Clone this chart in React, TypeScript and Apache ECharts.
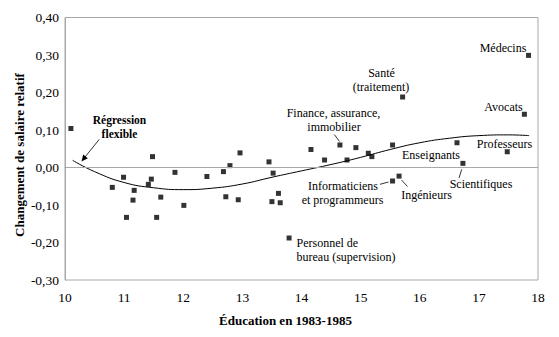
import React, { useEffect, useRef } from "react";
import * as echarts from "echarts";

// Occupations: education 1983-1985 (years) vs change in relative wage
const educ = [
  10.10, 10.80, 10.99, 11.04, 11.15, 11.17, 11.41, 11.46, 11.48, 11.55,
  11.62, 11.86, 12.01, 12.40, 12.68, 12.72, 12.79, 12.93, 12.96, 13.45,
  13.50, 13.52, 13.61, 13.64, 13.79, 14.16, 14.39, 14.65, 14.77, 14.92,
  15.13, 15.19, 15.54, 15.54, 15.65, 15.71, 16.63, 16.73, 17.48, 17.77,
  17.84,
];
const change = [
  0.104, -0.053, -0.026, -0.133, -0.087, -0.061, -0.045, -0.031, 0.029, -0.133,
  -0.079, -0.013, -0.101, -0.024, -0.011, -0.078, 0.005, -0.086, 0.039, 0.015,
  -0.091, -0.015, -0.069, -0.094, -0.188, 0.048, 0.020, 0.060, 0.020, 0.053,
  0.038, 0.029, 0.060, -0.036, -0.023, 0.188, 0.066, 0.011, 0.042, 0.142,
  0.299,
];

// Flexible regression curve
const curveX = [10.13, 10.5, 11.0, 11.5, 12.0, 12.5, 13.0, 13.5, 14.0, 14.5, 15.0, 15.5, 16.0, 16.5, 17.0, 17.5, 17.85];
const curveY = [0.019, -0.011, -0.040, -0.054, -0.059, -0.055, -0.044, -0.026, -0.009, 0.008, 0.027, 0.048, 0.066, 0.078, 0.085, 0.087, 0.085];

const FONT = "'Liberation Serif', 'Times New Roman', serif";

export default function App() {
  const ref = useRef<HTMLDivElement>(null);
  useEffect(() => {
    if (!ref.current) return;
    const chart = echarts.init(ref.current, undefined, { renderer: "svg" });
    const txt = (text: string, x: number, y: number, opts: any = {}) => ({
      type: "text",
      x,
      y,
      style: {
        text,
        fill: "#000",
        fontFamily: FONT,
        fontSize: opts.size || 12,
        fontWeight: opts.bold ? "bold" : "normal",
        textAlign: opts.align || "center",
        textVerticalAlign: "middle",
      },
      silent: true,
    });
    const ln = (x1: number, y1: number, x2: number, y2: number) => ({
      type: "line",
      shape: { x1, y1, x2, y2 },
      style: { stroke: "#000", lineWidth: 0.8 },
      silent: true,
    });
    chart.setOption({
      animation: false,
      grid: {
        left: 65,
        right: 21,
        top: 17.5,
        bottom: 57,
        show: true,
        borderColor: "#a8a8a8",
        borderWidth: 1,
      },
      xAxis: {
        type: "value",
        min: 10,
        max: 18,
        interval: 1,
        axisLine: { show: true, lineStyle: { color: "#a8a8a8" } },
        axisTick: { show: false },
        splitLine: { show: false },
        axisLabel: { color: "#000", fontFamily: FONT, fontSize: 13.5, margin: 10 },
      },
      yAxis: {
        type: "value",
        min: -0.3,
        max: 0.4,
        interval: 0.1,
        axisLine: { show: true, lineStyle: { color: "#a8a8a8" } },
        axisTick: { show: false },
        splitLine: { show: false },
        axisLabel: {
          color: "#000",
          fontFamily: FONT,
          fontSize: 13.5,
          margin: 6,
          formatter: (v: number) => v.toFixed(2).replace(".", ","),
        },
      },
      series: [
        {
          type: "line",
          data: curveX.map((x, i) => [x, curveY[i]]),
          smooth: true,
          showSymbol: false,
          lineStyle: { color: "#000", width: 1 },
          silent: true,
          z: 2,
          markLine: {
            silent: true,
            symbol: "none",
            label: { show: false },
            lineStyle: { color: "#a8a8a8", width: 1, type: "solid" },
            data: [{ yAxis: 0 }],
          },
        },
        {
          type: "scatter",
          data: educ.map((x, i) => [x, change[i]]),
          symbol: "rect",
          symbolSize: 5,
          itemStyle: { color: "#000" },
          z: 3,
        },
      ],
      graphic: [
        {
          type: "text",
          x: 19,
          y: 155,
          rotation: Math.PI / 2,
          style: {
            text: "Changement de salaire relatif",
            fill: "#000",
            fontFamily: FONT,
            fontSize: 13,
            fontWeight: "bold",
            textAlign: "center",
            textVerticalAlign: "middle",
          },
          silent: true,
        },
        txt("Éducation en 1983-1985", 285.5, 320, { bold: true, size: 13 }),
        txt("Régression", 119.5, 119.5, { bold: true, size: 11.5 }),
        txt("flexible", 119.5, 134, { bold: true, size: 11.5 }),
        ln(99.3, 139.3, 83, 159.5),
        {
          type: "polygon",
          shape: { points: [[81.5, 161.5], [83.2, 154.5], [87.8, 158.2]] },
          style: { fill: "#000" },
          silent: true,
        },
        txt("Médecins", 503, 48),
        txt("Santé", 381.5, 72.5),
        txt("(traitement)", 381, 86.5),
        txt("Avocats", 503.5, 107),
        txt("Finance, assurance,", 333.5, 112.5),
        txt("immobilier", 334, 127),
        ln(334.3, 134.5, 339.5, 141.5),
        txt("Professeurs", 504.5, 143.5),
        txt("Enseignants", 431, 155),
        txt("Scientifiques", 481, 184),
        ln(461.7, 169.3, 459, 178),
        txt("Informaticiens", 343, 186),
        txt("et programmeurs", 342.5, 200),
        ln(380, 184.3, 388.5, 182),
        txt("Ingénieurs", 426.5, 194.5),
        ln(401.5, 180, 407.5, 186.5),
        txt("Personnel de", 296.5, 242.5, { align: "left" }),
        txt("bureau (supervision)", 296.5, 257, { align: "left" }),
      ],
    });
    return () => chart.dispose();
  }, []);
  return (
    <div
      ref={ref}
      style={{ position: "fixed", left: 0, top: 0, width: 559, height: 337, background: "#fff" }}
    />
  );
}
